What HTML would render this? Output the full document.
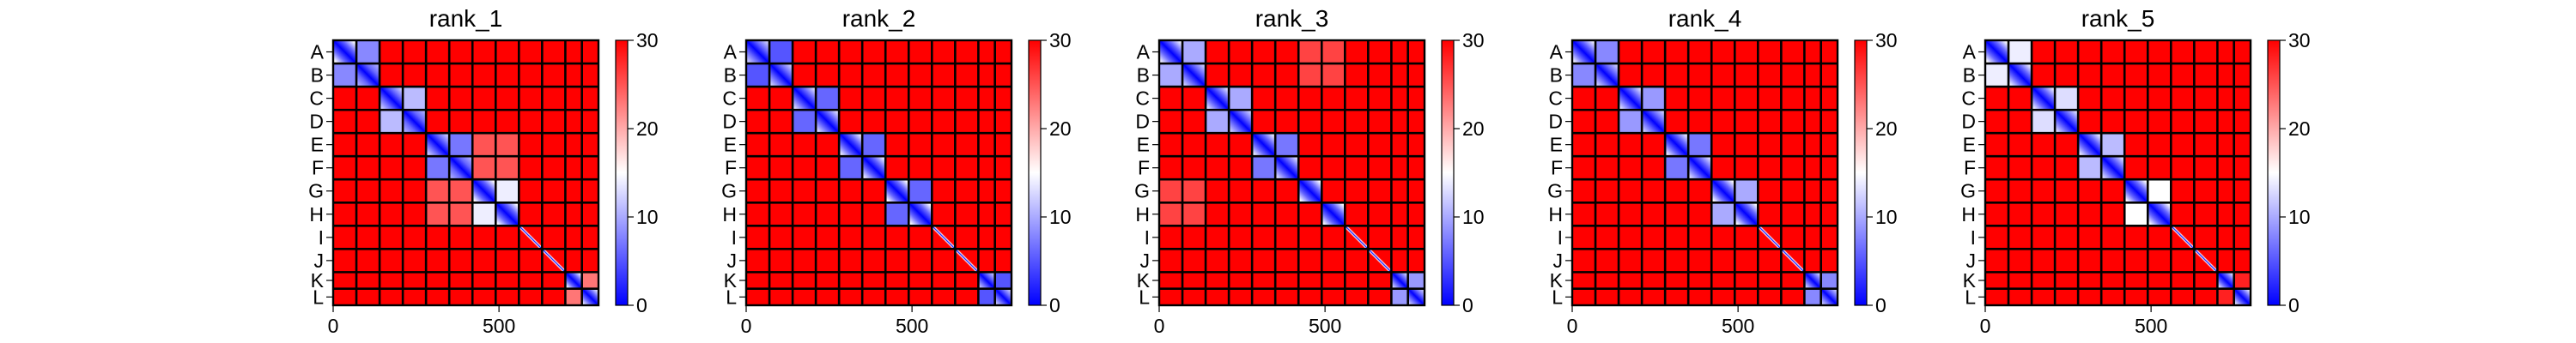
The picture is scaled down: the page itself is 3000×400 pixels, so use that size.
<!DOCTYPE html>
<html><head><meta charset="utf-8"><style>
body{margin:0;background:#fff;}
svg{display:block;font-family:"Liberation Sans","DejaVu Sans",sans-serif;}
</style></head><body>
<svg id="fig" width="3000" height="400" viewBox="0 0 3000 400">
<defs id="defs"></defs>
</svg>
<script>
const chroms = ["A","B","C","D","E","F","G","H","I","J","K","L"];
const chromLengths = [70,70,70,70,70,70,70,70,70,70,50,50];
const rankTitles = ["rank_1","rank_2","rank_3","rank_4","rank_5"];
const xTicks = [0,500];
const cbarTicks = [0,10,20,30];
const defaultValue = 30;
// off-diagonal block means [row, col, value] (symmetric)
const rank1Pairs = [[0,1,8],[2,3,11],[4,5,7],[4,6,25],[4,7,25],[5,6,25],[5,7,25],[6,7,14],[10,11,23]];
const rank2Pairs = [[0,1,5],[2,3,6],[4,5,6],[6,7,6],[10,11,5]];
const rank3Pairs = [[0,1,10],[0,6,26],[0,7,26],[1,6,26],[1,7,26],[2,3,10],[4,5,7],[10,11,9]];
const rank4Pairs = [[0,1,8],[2,3,9],[4,5,7],[6,7,10],[10,11,8]];
const rank5Pairs = [[0,1,14],[2,3,13],[4,5,11],[6,7,15],[10,11,28]];
// diagonal blocks: value at far corner
const rank1Diag = [16,10,12,10,12,10,20,20,30,30,15,14];
const rank2Diag = [12,12,13,13,14,14,18,18,30,30,12,12];
const rank3Diag = [14,12,13,12,14,13,18,18,30,30,13,12];
const rank4Diag = [14,12,13,12,14,13,18,18,30,30,13,12];
const rank5Diag = [16,14,14,13,14,13,18,18,30,30,14,14];
const allPairs=[rank1Pairs,rank2Pairs,rank3Pairs,rank4Pairs,rank5Pairs];
const allDiag=[rank1Diag,rank2Diag,rank3Diag,rank4Diag,rank5Diag];

const NS="http://www.w3.org/2000/svg";
const svg=document.getElementById('fig');
const defs=document.getElementById('defs');
function mk(t,a,p){const e=document.createElementNS(NS,t);for(const k in a)e.setAttribute(k,a[k]);(p||svg).appendChild(e);return e;}
function bwr(v){v=Math.max(0,Math.min(30,v))/30;let r,g,b;
 if(v<0.5){const t=v/0.5;r=255*t;g=255*t;b=255;}else{const t=(v-0.5)/0.5;r=255;g=255*(1-t);b=255*(1-t);}
 return `rgb(${r|0},${g|0},${b|0})`;}
const total=chromLengths.reduce((a,b)=>a+b,0);
const starts=[];{let s=0;for(const l of chromLengths){starts.push(s);s+=l;}}
const plotTop=47,plotH=309,plotW=309,panelStep=481,firstLeft=388;

const cg=mk('linearGradient',{id:'cbar',x1:0,y1:1,x2:0,y2:0},defs);
for(let i=0;i<=10;i++)mk('stop',{offset:i/10,'stop-color':bwr(i*3)},cg);

rankTitles.forEach((title,p)=>{
 const L=firstLeft+p*panelStep;
 const xs=v=>L+v/total*plotW, ys=v=>plotTop+v/total*plotH;
 const g=mk('g',{});
 
 
 const pairs=allPairs[p], diag=allDiag[p];
 const val=(i,j)=>{for(const q of pairs){if((q[0]===i&&q[1]===j)||(q[0]===j&&q[1]===i))return q[2];}return defaultValue;};
 for(let i=0;i<12;i++)for(let j=0;j<12;j++){
  let fill;
  if(i===j){
   const id='dg'+p+'_'+i;const far=diag[i];
   const lg=mk('linearGradient',{id:id,x1:1,y1:0,x2:0,y2:1},defs);
   let st;
   if(far>=30){st=[[0,30],[0.44,30],[0.47,15],[0.5,0],[0.53,15],[0.56,30],[1,30]];}
   else{const m=Math.min(far,15);st=[[0,far],[0.08,m],[0.3,6],[0.5,0],[0.7,6],[0.92,m],[1,far]];}
   st.forEach(s=>mk('stop',{offset:s[0],'stop-color':bwr(s[1])},lg));
   fill='url(#'+id+')';
  } else fill=bwr(val(i,j));
  const r=mk('rect',{x:xs(starts[j]),y:ys(starts[i]),width:xs(starts[j]+chromLengths[j])-xs(starts[j]),height:ys(starts[i]+chromLengths[i])-ys(starts[i]),fill:fill},g);
  
  
 }
 for(let k=1;k<12;k++){
  const ln1=mk('line',{x1:xs(starts[k]),x2:xs(starts[k]),y1:plotTop,y2:plotTop+plotH,stroke:'#000','stroke-width':2.6},g);
  
  
  const ln2=mk('line',{y1:ys(starts[k]),y2:ys(starts[k]),x1:L,x2:L+plotW,stroke:'#000','stroke-width':2.6},g);
  
  
 }
 const fr=mk('rect',{x:L,y:plotTop,width:plotW,height:plotH,fill:'none',stroke:'#000','stroke-width':2.4},g);
 
 
 const t=mk('text',{x:L+plotW/2,y:31,'text-anchor':'middle','font-size':28},g);
 t.textContent=title;
 
 
 chroms.forEach((c,i)=>{
  const y=ys(starts[i]+chromLengths[i]/2);
  mk('line',{x1:L-8,x2:L,y1:y,y2:y,stroke:'#000','stroke-width':1.2},g);
  const tl=mk('text',{x:L-11,y:y+8,'text-anchor':'end','font-size':23},g);
  tl.textContent=c;
  
  
 });
 xTicks.forEach(v=>{
  const x=xs(v);
  mk('line',{x1:x,x2:x,y1:plotTop+plotH,y2:plotTop+plotH+8,stroke:'#000','stroke-width':1.2},g);
  const tl=mk('text',{x:x,y:plotTop+plotH+32,'text-anchor':'middle','font-size':23},g);
  tl.textContent=v;
  
  
 });
 const cx=L+329,cw=14;
 const cb=mk('rect',{x:cx,y:plotTop,width:cw,height:plotH,fill:'url(#cbar)',stroke:'#000','stroke-width':1.2},g);
 
 
 cbarTicks.forEach(v=>{
  const y=plotTop+plotH-v/30*plotH;
  mk('line',{x1:cx+cw,x2:cx+cw+7,y1:y,y2:y,stroke:'#000','stroke-width':1.2},g);
  const tl=mk('text',{x:cx+cw+10,y:y+8,'font-size':23},g);
  tl.textContent=v;
  
  
 });
});
</script>
</body></html>
